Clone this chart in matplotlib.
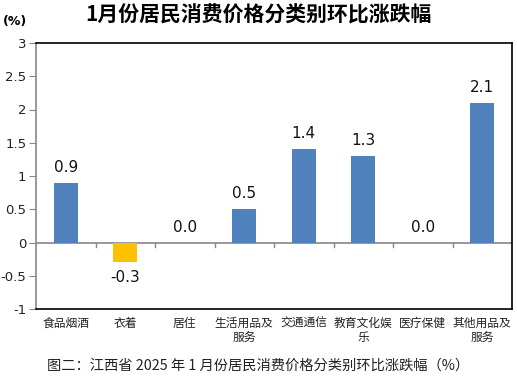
import matplotlib
matplotlib.use("Agg")
import matplotlib.pyplot as plt

plt.rcParams['font.family'] = ['DejaVu Sans', 'Noto Sans CJK SC']

categories = ["食品烟酒", "衣着", "居住", "生活用品及\n服务", "交通通信", "教育文化娱\n乐", "医疗保健", "其他用品及\n服务"]
values = [0.9, -0.3, 0.0, 0.5, 1.4, 1.3, 0.0, 2.1]
bar_colors = ["#4F81BD", "#FFC000", "#4F81BD", "#4F81BD", "#4F81BD", "#4F81BD", "#4F81BD", "#4F81BD"]
yticks = [-1, -0.5, 0, 0.5, 1, 1.5, 2, 2.5, 3]
ytick_labels = ["-1", "-0.5", "0", "0.5", "1", "1.5", "2", "2.5", "3"]
title = "1月份居民消费价格分类别环比涨跌幅"
caption = "图二：江西省 2025 年 1 月份居民消费价格分类别环比涨跌幅（%）"

fig = plt.figure(figsize=(5.17, 3.76), dpi=100)
ax = fig.add_axes([36/517, 1-309/376, (512-36)/517, (309-43)/376])

x = list(range(len(categories)))
ax.bar(x, values, width=0.4, color=bar_colors, zorder=3)
for xi, v in zip(x, values):
    if v >= 0:
        ax.text(xi, v + 0.12, f"{v:.1f}", ha="center", va="bottom", fontsize=11, color="#111111")
    else:
        ax.text(xi, v - 0.12, f"{v:.1f}", ha="center", va="top", fontsize=11, color="#111111")

ax.set_xlim(-0.5, len(categories) - 0.5)
ax.set_ylim(-1, 3)
ax.set_yticks(yticks)
ax.set_yticklabels(ytick_labels, fontsize=9.5, color="#222222")
ax.tick_params(axis="y", length=5, color="#888888", pad=2)
ax.set_xticks([])

# zero line with category separator ticks
ax.axhline(0, color="#888888", lw=1.2, zorder=2)
for b in range(1, len(categories)):
    ax.plot([b - 0.5, b - 0.5], [0, -0.07], color="#888888", lw=1, zorder=2)

for s in ["top", "right", "bottom"]:
    ax.spines[s].set_color("black")
    ax.spines[s].set_linewidth(1.2)
ax.spines["left"].set_color("#888888")
ax.spines["left"].set_linewidth(1.2)

for xi, c in zip(x, categories):
    ax.text(xi, -1.12, c, ha="center", va="top", fontsize=8.5,
            family=["Noto Sans CJK SC", "DejaVu Sans"], color="#222222", linespacing=1.1,
            transform=ax.transData)

fig.text(258/517, 1-15/376, title, ha="center", va="center", fontsize=15, fontweight="bold",
         family=["Noto Sans CJK SC", "DejaVu Sans"])
fig.text(15/517, 1-22/376, "(%)", ha="center", va="center", fontsize=9, fontweight="bold")
fig.text(258/517, 1-366/376, caption, ha="center", va="center", fontsize=10.3,
         family=["Noto Sans CJK SC", "DejaVu Sans"], color="#222222")

fig.savefig("out.png", dpi=100)
